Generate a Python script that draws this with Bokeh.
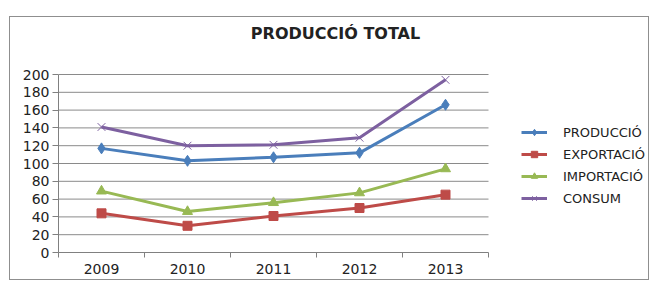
from bokeh.plotting import figure
from bokeh.models import Legend, LegendItem, FixedTicker, Label
from bokeh.embed import file_html
from bokeh.resources import INLINE

years = [2009, 2010, 2011, 2012, 2013]
produccio = [117, 103, 107, 112, 166]
exportacio = [44, 30, 41, 50, 65]
importacio = [69, 46, 56, 67, 94]
consum = [141, 120, 121, 129, 194]
y_ticks = list(range(0, 201, 20))

FONT = "DejaVu Sans"

# layout in pixels (picture coordinates)
CONTENT_LEFT, CONTENT_TOP = 10, 17
W, H = 640, 264
FRAME_LEFT, FRAME_BOTTOM = 58, 252
PX_PER_YEAR = 86.0
PX_PER_UNIT = 178.0 / 200.0

x_start = years[0] - 0.5
x_end_axis = years[-1] + 0.5
x_end = x_start + (CONTENT_LEFT + W - FRAME_LEFT) / PX_PER_YEAR
y_end = (FRAME_BOTTOM - CONTENT_TOP) / PX_PER_UNIT

p = figure(width=W, height=H, output_backend="svg", toolbar_location=None,
           x_range=(x_start, x_end), y_range=(0, y_end),
           min_border_left=FRAME_LEFT - CONTENT_LEFT, min_border_right=0,
           min_border_top=0, min_border_bottom=CONTENT_TOP + H - FRAME_BOTTOM)
p.margin = (CONTENT_TOP - 1, 0, 0, CONTENT_LEFT - 1)
p.styles = {"border": "1px solid #8f8f8f"}
p.outline_line_color = None
p.background_fill_color = "white"
p.border_fill_color = "white"
p.xgrid.grid_line_color = None
p.ygrid.grid_line_color = None

# horizontal gridlines limited to the plot area
p.segment(x0=[x_start] * len(y_ticks[1:]), x1=[x_end_axis] * len(y_ticks[1:]),
          y0=y_ticks[1:], y1=y_ticks[1:], line_color="#8a8a8a", line_width=1)

# axes
p.xaxis.bounds = (x_start, x_end_axis)
p.yaxis.bounds = (0, 200)
p.xaxis.ticker = FixedTicker(ticks=years, minor_ticks=[y - 0.5 for y in years] + [x_end_axis])
p.xaxis.major_tick_out = 0
p.xaxis.major_tick_in = 0
p.xaxis.minor_tick_out = 5
p.xaxis.minor_tick_in = 0
p.xaxis.minor_tick_line_color = "#808080"
p.yaxis.ticker = FixedTicker(ticks=y_ticks)
p.yaxis.minor_tick_line_color = None
p.yaxis.major_tick_out = 6
p.yaxis.major_tick_in = 0
for ax in (p.xaxis, p.yaxis):
    ax.axis_line_color = "#808080"
    ax.major_tick_line_color = "#808080"
    ax.major_label_text_font = FONT
    ax.major_label_text_font_size = "14px"
    ax.major_label_text_color = "#222222"
p.yaxis.major_label_standoff = 3
p.xaxis.major_label_standoff = 6

series = [
    ("PRODUCCIÓ", produccio, "#4A7EBB", "diamond", 11),
    ("EXPORTACIÓ", exportacio, "#BE4B48", "square", 9),
    ("IMPORTACIÓ", importacio, "#98B954", "triangle", 10),
    ("CONSUM", consum, "#7D60A0", "x", 11),
]

items = []
for name, vals, color, marker, size in series:
    r1 = p.line(years, vals, line_color=color, line_width=3)
    r2 = p.scatter(years, vals, marker=marker, size=size, fill_color=color,
                   line_color=color, line_width=1)
    items.append(LegendItem(label=name, renderers=[r1, r2]))

legend = Legend(items=items, location=(463, 46), orientation="vertical",
                glyph_width=26, glyph_height=16, label_height=16, spacing=6,
                label_standoff=16, padding=0, margin=0,
                label_text_font=FONT, label_text_font_size="13px",
                label_text_color="#222222",
                border_line_color=None, background_fill_alpha=0)
p.add_layout(legend, "center")

title = Label(x=277, y=219, x_units="screen", y_units="screen",
              text="PRODUCCIÓ TOTAL", text_font=FONT, text_font_size="16px",
              text_font_style="bold", text_align="center", text_baseline="middle",
              text_color="#222222")
p.add_layout(title)

open("out.html", "w").write(file_html(p, INLINE))
